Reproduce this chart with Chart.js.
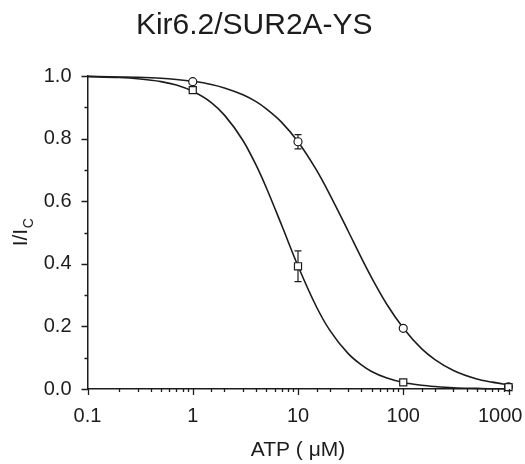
<!DOCTYPE html>
<html lang="en">
<head>
  <meta charset="UTF-8" />
  <title>Kir6.2/SUR2A-YS</title>
  <style>
    html, body { margin: 0; padding: 0; background: #fff; }
    #chart { display: block; }
  </style>
</head>
<body>
<canvas id="chart" width="525" height="464"></canvas>

<script src="https://cdn.jsdelivr.net/npm/chart.js"></script>

<script>
  // measured points (mean +/- s.e.m.)
  const atp = [1, 10, 100, 1000];
  const circleMean = [0.982, 0.790, 0.194, 0.007];
  const circleErr = [0.005, 0.023, 0.006, 0.003];
  const squareMean = [0.955, 0.392, 0.021, 0.006];
  const squareErr = [0.007, 0.049, 0.004, 0.003];

  // fitted curves
  const fitAtp = [0.1, 0.2, 0.3, 0.5, 0.7, 1, 1.5, 2, 3, 4, 5, 7, 10, 15, 20, 30, 40, 50, 70, 100, 150, 200, 300, 500, 700, 1000];
  const circleFit = [0.999, 0.997, 0.996, 0.993, 0.989, 0.983, 0.973, 0.962, 0.940, 0.918, 0.895, 0.852, 0.790, 0.699, 0.622, 0.504, 0.419, 0.356, 0.270, 0.195, 0.128, 0.094, 0.059, 0.032, 0.022, 0.013];
  const squareFit = [0.998, 0.995, 0.991, 0.982, 0.971, 0.951, 0.915, 0.875, 0.794, 0.715, 0.643, 0.523, 0.393, 0.262, 0.188, 0.113, 0.077, 0.056, 0.035, 0.021, 0.012, 0.008, 0.004, 0.002, 0.001, 0.001];

  const xTickLabels = ['0.1', '1', '10', '100', '1000'];

  const ink = '#1c1c1c';
  const font = "'Liberation Sans', Arial, sans-serif";

  const pts = (xs, ys) => xs.map((x, i) => ({ x: x, y: ys[i] }));

  // error bars go under the markers
  const errorBars = {
    id: 'errorBars',
    beforeDatasetsDraw(chart) {
      const ctx = chart.ctx;
      const xs = chart.scales.x, ys = chart.scales.y;
      ctx.save();
      ctx.strokeStyle = ink;
      ctx.lineWidth = 1.2;
      [[circleMean, circleErr], [squareMean, squareErr]].forEach(([m, e]) => {
        atp.forEach((a, i) => {
          const px = xs.getPixelForValue(a);
          const top = ys.getPixelForValue(m[i] + e[i]);
          const bot = ys.getPixelForValue(m[i] - e[i]);
          ctx.beginPath();
          ctx.moveTo(px, top); ctx.lineTo(px, bot);
          ctx.moveTo(px - 3.5, top); ctx.lineTo(px + 3.5, top);
          ctx.moveTo(px - 3.5, bot); ctx.lineTo(px + 3.5, bot);
          ctx.stroke();
        });
      });
      ctx.restore();
    }
  };

  // outward tick marks, short ones for minor ticks
  const axisTicks = {
    id: 'axisTicks',
    afterDraw(chart) {
      const ctx = chart.ctx;
      const xs = chart.scales.x, ys = chart.scales.y;
      const area = chart.chartArea;
      ctx.save();
      ctx.strokeStyle = ink;
      ctx.lineWidth = 1.3;
      ctx.beginPath();
      xs.ticks.forEach(t => {
        const lg = Math.log10(t.value);
        const major = Math.abs(lg - Math.round(lg)) < 1e-6;
        const px = Math.round(xs.getPixelForValue(t.value)) + 0.5;
        ctx.moveTo(px, area.bottom);
        ctx.lineTo(px, area.bottom + (major ? 6 : 3));
      });
      ys.ticks.forEach((t, i) => {
        const py = Math.round(ys.getPixelForValue(t.value)) + 0.5;
        ctx.moveTo(area.left, py);
        ctx.lineTo(area.left - (i % 2 === 0 ? 6 : 3), py);
      });
      ctx.stroke();
      ctx.restore();
    }
  };

  // y title with subscript C
  const yTitle = {
    id: 'yTitle',
    afterDraw(chart) {
      const ctx = chart.ctx;
      const area = chart.chartArea;
      ctx.save();
      ctx.fillStyle = ink;
      ctx.translate(27, (area.top + area.bottom) / 2);
      ctx.rotate(-Math.PI / 2);
      ctx.textBaseline = 'alphabetic';
      ctx.textAlign = 'left';
      ctx.font = '21px ' + font;
      const w1 = ctx.measureText('I/I').width;
      ctx.font = '14px ' + font;
      const w2 = ctx.measureText('C').width;
      const x0 = -(w1 + w2) / 2;
      ctx.font = '21px ' + font;
      ctx.fillText('I/I', x0, 0);
      ctx.font = '14px ' + font;
      ctx.fillText('C', x0 + w1 + 0.5, 6);
      ctx.restore();
    }
  };

  new Chart(document.getElementById('chart').getContext('2d'), {
    type: 'scatter',
    data: {
      datasets: [
        {
          label: 'squares',
          data: pts(atp, squareMean),
          pointStyle: 'rect',
          pointRadius: 5,
          pointBorderWidth: 1.2,
          pointBackgroundColor: '#fff',
          pointBorderColor: ink,
          showLine: false,
          clip: false
        },
        {
          label: 'circles',
          data: pts(atp, circleMean),
          pointStyle: 'circle',
          pointRadius: 4,
          pointBorderWidth: 1.2,
          pointBackgroundColor: '#fff',
          pointBorderColor: ink,
          showLine: false,
          clip: false
        },
        {
          label: 'circle fit',
          data: pts(fitAtp, circleFit),
          showLine: true,
          borderColor: ink,
          borderWidth: 1.6,
          pointRadius: 0,
          cubicInterpolationMode: 'monotone',
          clip: false
        },
        {
          label: 'square fit',
          data: pts(fitAtp, squareFit),
          showLine: true,
          borderColor: ink,
          borderWidth: 1.6,
          pointRadius: 0,
          cubicInterpolationMode: 'monotone',
          clip: false
        }
      ]
    },
    options: {
      responsive: false,
      animation: false,
      devicePixelRatio: 1,
      layout: { padding: { left: 0, right: 16.5, top: 0, bottom: 0 } },
      plugins: {
        legend: { display: false },
        tooltip: { enabled: false },
        title: {
          display: true,
          text: 'Kir6.2/SUR2A-YS',
          color: ink,
          font: { family: font, size: 30, weight: 'normal', lineHeight: 1.2 },
          padding: { top: 8, bottom: 32 }
        }
      },
      scales: {
        x: {
          type: 'logarithmic',
          min: 0.1,
          max: 1000,
          grid: { display: false, drawTicks: false },
          border: { display: true, color: ink, width: 1.5 },
          ticks: {
            color: ink,
            font: { family: font, size: 20 },
            padding: 15,
            autoSkip: false,
            maxRotation: 0,
            callback: function (v) {
              const s = String(Number(v.toPrecision(3)));
              if (!xTickLabels.includes(s)) return '';
              // last label sits inside the page edge, as in the figure
              return s === '1000' ? s + '   ' : s;
            }
          },
          title: {
            display: true,
            text: 'ATP ( μM)',
            color: ink,
            font: { family: font, size: 21 },
            padding: { top: 0, bottom: 1 }
          },
          afterFit(s) { s.height = 75; s.paddingLeft = 0; s.paddingRight = 0; }
        },
        y: {
          min: 0,
          max: 1,
          grid: { display: false, drawTicks: false },
          border: { display: true, color: ink, width: 1.5 },
          ticks: {
            stepSize: 0.1,
            color: ink,
            font: { family: font, size: 20 },
            padding: 16,
            autoSkip: false,
            callback: (v, i) => (i % 2 === 0 ? v.toFixed(1) : '')
          },
          afterFit(s) { s.width = 87.5; s.paddingTop = 0; s.paddingBottom = 0; }
        }
      }
    },
    plugins: [errorBars, axisTicks, yTitle]
  });
</script>
</body>
</html>
